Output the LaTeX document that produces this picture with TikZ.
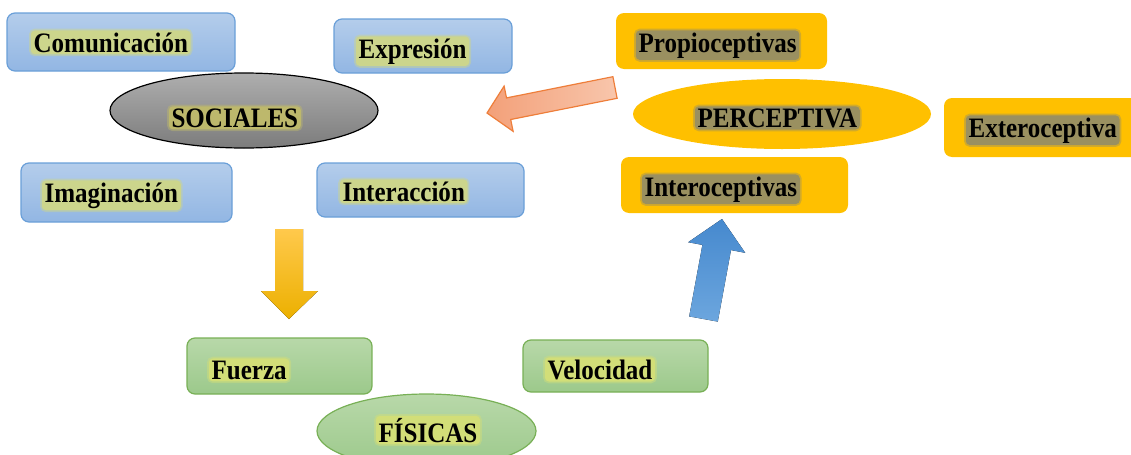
\documentclass[tikz,border=0pt]{standalone}
\usepackage{fontspec}
\newfontfamily\labelfont{Liberation Serif}[FakeStretch=0.89]

\definecolor{bluetop}{HTML}{B4CDEB}
\definecolor{bluebot}{HTML}{92B6E3}
\definecolor{blueedge}{HTML}{6A9FD8}
\definecolor{graytop}{HTML}{AEAEAE}
\definecolor{graybot}{HTML}{7C7C7C}
\definecolor{gold}{HTML}{FFC000}
\definecolor{greentop}{HTML}{B8D8A9}
\definecolor{greenbot}{HTML}{9CC98B}
\definecolor{greenedge}{HTML}{78B056}
\definecolor{glowpale}{HTML}{CCD58C}
\definecolor{glowolive}{HTML}{9A9060}
\definecolor{glowgreen}{HTML}{D2DE78}
\definecolor{glowgray}{HTML}{BDB86C}
\definecolor{peachdark}{HTML}{F3A079}
\definecolor{peachlight}{HTML}{F8C6AC}
\definecolor{peachedge}{HTML}{EE7E3A}
\definecolor{sunnytop}{HTML}{FFC94C}
\definecolor{sunnybot}{HTML}{ECB000}
\definecolor{skytop}{HTML}{4689CE}
\definecolor{skybot}{HTML}{6CA6DE}

\tikzset{
  bluebox/.style={draw=blueedge, line width=0.03cm, rounded corners=0.2cm,
    top color=bluetop, bottom color=bluebot},
  goldbox/.style={fill=gold, rounded corners=0.2cm},
  greenbox/.style={draw=greenedge, line width=0.03cm, rounded corners=0.2cm,
    top color=greentop, bottom color=greenbot},
  labeltext/.style={anchor=base west, inner xsep=2pt, inner ysep=1.5pt,
    fill=#1, draw=#1, draw opacity=0.45, line width=2.5pt, rounded corners=3pt,
    font=\labelfont\bfseries\fontsize{20}{22}\selectfont},
}

\begin{document}
\begin{tikzpicture}[x=0.025cm, y=-0.025cm]
    \useasboundingbox (0,0) rectangle (1131,454);
    \clip (0,0) rectangle (1131,454);

    % Boxes of SOCIALES
    \draw [bluebox] (7,13) rectangle (235,71);%
    \draw [bluebox] (334,19) rectangle (512,73);%
    \draw [bluebox] (21,163) rectangle (232,222);%
    \draw [bluebox] (317,163) rectangle (524,217);%
    \node [labeltext=glowpale] (comunicacion) at (29,52) {Comunicación};%
    \node [labeltext=glowpale] (expresion) at (354,58) {Expresión};%
    \node [labeltext=glowpale] (imaginacion) at (40,202) {Imaginación};%
    \node [labeltext=glowpale] (interaccion) at (338,201) {Interacción};%

    % Ellipse SOCIALES
    \draw [line width=0.03cm, top color=graytop, bottom color=graybot]
        (244,110.5) ellipse [x radius=134, y radius=37.5];%
    \node [labeltext=glowgray] (sociales) at (167,127) {SOCIALES};%

    % Boxes of PERCEPTIVA
    \fill [goldbox] (616,13) rectangle (827,69);%
    \fill [goldbox] (621,157) rectangle (848,213);%
    \fill [goldbox] (944,98) rectangle (1145,157);%
    \fill [gold] (782,114) ellipse [x radius=149, y radius=35];%
    \node [labeltext=glowolive] (propioceptivas) at (634,52) {Propioceptivas};%
    \node [labeltext=glowolive] (perceptiva) at (693,127) {PERCEPTIVA};%
    \node [labeltext=glowolive] (exteroceptiva) at (964,137) {Exteroceptiva};%
    \node [labeltext=glowolive] (interoceptivas) at (640,196) {Interoceptivas};%

    % Boxes of FISICAS
    \draw [greenbox] (187,338) rectangle (372,394);%
    \draw [greenbox] (523,340) rectangle (708,392);%
    \draw [line width=0.03cm, draw=greenedge, top color=greentop, bottom color=greenbot]
        (426.5,431) ellipse [x radius=109.5, y radius=37];%
    \node [labeltext=glowgreen] (fuerza) at (207,379) {Fuerza};%
    \node [labeltext=glowgreen] (velocidad) at (543,379) {Velocidad};%
    \node [labeltext=glowgreen] (fisicas) at (374,442) {FÍSICAS};%

    % Block arrow to the left
    \draw [line width=0.03cm, draw=peachedge, left color=peachdark, right color=peachlight]
        (612.9,76.7) -- (617.1,98.3) -- (510.7,119.5) -- (513.1,131.3) -- (487,113)
        -- (504.1,86.1) -- (506.5,97.9) -- cycle;%

    % Block arrow down
    \fill [top color=sunnytop, bottom color=sunnybot]
        (275,229) -- (303,229) -- (303,291) -- (318,291) -- (289,319)
        -- (261,291) -- (275,291) -- cycle;%

    % Block arrow up
    \fill [top color=skytop, bottom color=skybot]
        (689.2,316.4) -- (717.8,321.6) -- (731,250.1) -- (745.2,252.8) -- (722,219)
        -- (688.2,242.2) -- (702.4,244.9) -- cycle;%
\end{tikzpicture}
\end{document}
